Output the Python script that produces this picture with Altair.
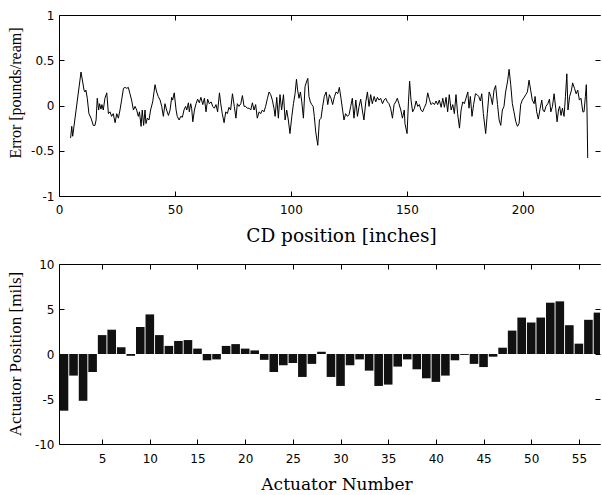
import altair as alt
import pandas as pd

# ---- top panel: error profile ----
cd_pos = [5.0, 5.5, 5.9, 9.5, 10.8, 11.2, 11.6, 12.2, 12.9, 13.8, 14.8, 15.5, 16.0, 16.5, 17.1, 17.5, 18.1, 18.5, 19.1, 19.8,
          20.6, 21.3, 22.0, 22.7, 23.4, 24.2, 24.9, 25.6, 26.3, 27.0, 27.8, 28.5, 29.2, 29.9, 30.6, 31.3, 32.1, 32.8, 33.5, 34.2,
          34.7, 35.4, 35.9, 36.5, 37.1, 37.5, 38.1, 38.8, 39.5, 40.4, 41.4, 42.1, 42.8, 43.6, 44.3, 45.0, 45.7, 46.4, 47.2, 47.9,
          48.6, 49.0, 49.7, 50.5, 51.0, 51.8, 52.5, 53.2, 53.9, 54.6, 55.1, 55.8, 56.2, 56.8, 57.2, 57.7, 58.4, 59.1, 59.8, 60.5,
          61.2, 62.0, 62.7, 63.4, 64.1, 64.8, 65.6, 66.3, 67.0, 67.7, 68.4, 69.2, 69.7, 70.4, 71.2, 71.9, 72.6, 73.3, 74.0, 74.8,
          75.6, 76.3, 76.9, 77.6, 78.4, 79.1, 79.8, 80.5, 81.2, 82.0, 82.7, 83.4, 84.1, 84.8, 85.5, 86.3, 87.0, 87.7, 88.4, 89.1,
          89.9, 90.6, 91.3, 92.0, 92.7, 93.2, 93.9, 94.6, 95.3, 96.0, 96.8, 97.5, 98.2, 98.9, 99.6, 100.4, 101.1, 101.8, 102.4, 102.9,
          103.5, 104.1, 104.7, 105.4, 106.1, 106.7, 107.3, 107.8, 108.4, 109.0, 109.6, 110.1, 110.7, 111.6, 112.3, 113.0, 113.7, 114.4, 115.2, 115.9,
          116.6, 117.3, 118.0, 118.8, 119.5, 120.2, 120.9, 121.6, 122.3, 122.9, 123.6, 124.4, 125.1, 125.8, 126.5, 127.2, 128.0, 128.7, 129.4, 130.1,
          130.8, 131.5, 132.3, 133.0, 133.7, 134.4, 135.1, 135.9, 136.6, 137.3, 138.0, 138.7, 139.5, 140.2, 140.9, 141.6, 142.3, 143.0, 143.8, 144.5,
          145.2, 145.9, 146.6, 147.4, 148.1, 148.9, 149.2, 150.1, 150.7, 151.2, 151.8, 152.5, 153.3, 154.0, 154.7, 155.4, 156.1, 156.8, 157.6, 158.3,
          159.0, 159.7, 160.4, 161.2, 161.9, 162.6, 163.3, 164.0, 164.8, 165.5, 166.2, 166.9, 167.6, 168.3, 169.1, 169.8, 170.5, 171.2, 171.9, 172.7,
          173.4, 174.1, 174.8, 175.5, 176.3, 176.8, 177.4, 178.1, 178.8, 179.6, 180.3, 181.0, 181.7, 182.3, 183.0, 184.0, 184.7, 185.5, 186.2, 186.9,
          187.6, 188.3, 189.1, 189.8, 190.5, 191.2, 191.9, 192.6, 193.4, 194.1, 194.8, 195.5, 196.2, 197.0, 197.7, 198.4, 199.1, 199.8, 200.6, 201.3,
          202.0, 202.7, 203.4, 204.1, 204.9, 205.3, 206.0, 206.7, 207.5, 208.2, 208.7, 209.3, 210.0, 210.8, 211.5, 212.1, 212.8, 213.5, 214.2, 214.8,
          215.4, 215.9, 216.5, 217.1, 217.8, 218.4, 219.0, 219.5, 220.2, 221.0, 221.5, 222.3, 223.0, 223.7, 224.4, 225.1, 225.9, 226.4, 227.0, 227.4,
          227.7, 228.0]
err = [-0.36, -0.23, -0.34, 0.37, 0.17, 0.15, 0.17, 0.08, -0.09, -0.14, -0.22, -0.22, -0.16, 0.08, -0.05, 0.02, -0.04, 0.01, -0.05, 0.08,
       0.14, -0.09, -0.07, -0.12, -0.09, -0.19, -0.09, -0.14, -0.05, 0.06, 0.19, 0.20, 0.19, 0.20, 0.13, 0.06, -0.05, -0.01, -0.05, -0.12,
       -0.07, -0.23, -0.05, -0.22, -0.05, -0.20, -0.14, -0.16, -0.05, 0.04, 0.23, 0.15, 0.10, 0.06, -0.01, -0.12, 0.02, -0.05, -0.11, -0.05,
       0.09, 0.06, 0.14, -0.05, -0.12, -0.16, -0.12, -0.13, -0.05, -0.01, -0.05, 0.03, -0.07, 0.02, -0.03, -0.18, -0.05, 0.02, 0.07, 0.03,
       0.09, 0.01, 0.08, -0.07, 0.07, 0.02, 0.04, -0.01, -0.03, 0.01, -0.07, 0.14, 0.03, -0.09, -0.19, -0.07, -0.09, -0.02, -0.05, 0.13,
       -0.01, -0.14, 0.02, -0.01, 0.02, 0.11, -0.01, -0.01, -0.03, -0.03, -0.05, 0.03, -0.05, 0.01, -0.14, -0.07, -0.09, -0.05, -0.07, -0.01,
       0.08, 0.15, 0.12, 0.06, -0.03, -0.12, 0.09, -0.14, 0.12, -0.05, 0.12, -0.16, -0.05, -0.16, -0.31, -0.12, 0.02, 0.13, 0.29, 0.17,
       0.08, 0.15, 0.04, -0.14, 0.21, 0.26, 0.30, 0.10, 0.04, 0.01, -0.01, -0.12, -0.29, -0.44, -0.16, -0.14, -0.01, 0.10, 0.15, 0.01,
       0.12, 0.08, 0.01, 0.10, 0.15, 0.13, 0.20, 0.08, -0.05, -0.16, -0.09, -0.12, -0.10, -0.01, 0.08, -0.14, 0.06, -0.12, -0.01, 0.07,
       -0.05, -0.16, 0.04, 0.15, -0.01, 0.12, 0.02, 0.10, 0.04, 0.09, 0.06, 0.08, 0.02, 0.06, 0.08, 0.04, 0.02, -0.03, -0.14, 0.01,
       0.04, 0.08, 0.02, -0.05, -0.14, -0.05, -0.20, -0.31, 0.04, 0.27, 0.06, -0.07, -0.03, 0.05, -0.01, 0.01, -0.05, -0.07, -0.02, 0.02,
       0.14, 0.07, 0.01, 0.03, 0.01, 0.05, 0.01, 0.06, -0.02, 0.08, -0.02, 0.09, -0.07, 0.12, -0.05, 0.01, -0.09, 0.12, -0.09, -0.25,
       -0.05, 0.04, 0.02, 0.08, 0.15, -0.03, 0.10, -0.12, 0.01, 0.13, 0.12, 0.10, 0.05, 0.13, -0.09, -0.31, -0.09, 0.15, 0.10, 0.01,
       0.17, 0.22, 0.01, -0.16, -0.22, -0.05, -0.01, 0.15, 0.26, 0.40, 0.23, 0.02, -0.07, -0.18, -0.23, -0.20, 0.01, 0.06, 0.09, 0.12,
       0.15, 0.28, 0.17, 0.06, 0.02, 0.10, -0.07, -0.15, -0.03, 0.06, -0.05, -0.07, -0.01, 0.02, 0.07, -0.07, -0.01, 0.13, -0.03, -0.18,
       -0.05, -0.01, -0.11, -0.03, -0.12, 0.10, 0.35, -0.05, 0.10, 0.17, 0.25, 0.19, 0.13, 0.17, 0.06, 0.08, -0.07, -0.07, 0.10, 0.23,
       -0.05, -0.58]

# ---- bottom panel: actuator profile ----
actuator = list(range(1, 58))
act_pos = [-6.3, -2.4, -5.2, -2.0, 2.1, 2.7, 0.75, -0.2, 3.0, 4.4,
           2.1, 0.9, 1.45, 1.55, 0.6, -0.7, -0.6, 0.9, 1.1, 0.6,
           0.4, -0.65, -2.0, -1.25, -1.0, -2.55, -1.1, 0.25, -2.55, -3.55,
           -1.25, -0.6, -1.85, -3.55, -3.4, -1.4, -0.6, -1.7, -2.7, -3.1,
           -2.4, -0.7, -0.1, -1.1, -1.45, -0.3, 0.7, 2.6, 4.05, 3.5,
           4.05, 5.7, 5.85, 3.2, 1.15, 3.8, 4.6]

top_x_ticks = [0, 50, 100, 150, 200]
top_y_ticks = [-1, -0.5, 0, 0.5, 1]
bot_x_ticks = [5, 10, 15, 20, 25, 30, 35, 40, 45, 50, 55]
bot_y_ticks = [-10, -5, 0, 5, 10]

top_df = pd.DataFrame({"cd": cd_pos, "err": err})
bot_df = pd.DataFrame({"act": actuator, "pos": act_pos})

INWARD = {"expr": "-5"}
LABEL_FONT = "DejaVu Sans"


def main_x_axis(values, title, size, tx, pad):
    return alt.Axis(orient="bottom", values=values, grid=False,
                    domain=True, domainColor="black", domainWidth=1,
                    tickSize=INWARD, tickColor="black", tickWidth=1,
                    labelPadding=pad, labelFont=LABEL_FONT, labelFontSize=12,
                    labelColor="black", labelFlush=False, labelOverlap=False,
                    labelExpr="'' + datum.value",
                    title=title, titleFont="DejaVu Serif", titleFontSize=size,
                    titleFontWeight="normal", titleColor="black",
                    titleX=tx, titleY=45, titleAlign="center", titleBaseline="alphabetic")


def main_y_axis(values, title, size, ty):
    return alt.Axis(orient="left", values=values, grid=False,
                    domain=True, domainColor="black", domainWidth=1,
                    tickSize=INWARD, tickColor="black", tickWidth=1,
                    labelPadding=10, labelFont=LABEL_FONT, labelFontSize=12,
                    labelColor="black", labelFlush=False, labelOverlap=False,
                    labelExpr="'' + datum.value",
                    title=title, titleFont="Liberation Serif", titleFontSize=size,
                    titleFontWeight="normal", titleColor="black", titleAngle=270,
                    titleX=-44, titleY=ty, titleAlign="center", titleBaseline="middle")


def tick_axis(orient, values, show_domain):
    return alt.Axis(orient=orient, values=values, grid=False, labels=False,
                    domain=show_domain, domainColor="black", domainWidth=1,
                    tickSize=INWARD, tickColor="black", tickWidth=1, title="")


xs_top = alt.Scale(domain=[0, 233.3], nice=False, zero=False)
ys_top = alt.Scale(domain=[-1, 1], nice=False)
xs_bot = alt.Scale(domain=[1, 56.69], nice=False, zero=False)
ys_bot = alt.Scale(domain=[-10, 10], nice=False)

top_line = alt.Chart(top_df).mark_line(color="black", strokeWidth=1).encode(
    x=alt.X("cd:Q", scale=xs_top, axis=main_x_axis(top_x_ticks, "CD position [inches]", 18.5, 282, 13)),
    y=alt.Y("err:Q", scale=ys_top, axis=main_y_axis(top_y_ticks, "Error [pounds/ream]", 16, 77.5)),
)
top_ghost = alt.Chart(top_df).mark_line(strokeOpacity=0).encode(
    x=alt.X("cd:Q", scale=xs_top, axis=tick_axis("top", top_x_ticks, True)),
    y=alt.Y("err:Q", scale=ys_top, axis=tick_axis("right", top_y_ticks, False)),
)
top = alt.layer(top_line, top_ghost).resolve_axis(x="independent", y="independent").properties(
    width=541, height=181)

bars_main = alt.Chart(bot_df).transform_filter("datum.act <= 56").mark_bar(
    size=8.6, color="#111111", clip=False).encode(
    x=alt.X("act:Q", scale=xs_bot, axis=main_x_axis(bot_x_ticks, "Actuator Number", 17, 277.5, 14)),
    y=alt.Y("pos:Q", scale=ys_bot, axis=main_y_axis(bot_y_ticks, "Actuator Position [mils]", 17, 89.5)),
)
bars_edge = alt.Chart(bot_df).transform_filter("datum.act > 56").mark_bar(
    size=8.6, color="#111111", clip=True).encode(
    x=alt.X("act:Q", scale=xs_bot, axis=tick_axis("top", bot_x_ticks, True)),
    y=alt.Y("pos:Q", scale=ys_bot, axis=tick_axis("right", bot_y_ticks, False)),
)
bottom = alt.layer(bars_main, bars_edge).resolve_axis(x="independent", y="independent").properties(
    width=541, height=180)

chart = alt.vconcat(top, bottom, spacing=68, bounds="flush").properties(
    padding={"left": 6, "top": 9, "right": 0, "bottom": 0},
    background="white",
).configure_view(strokeWidth=0)

chart.save("out.html", embed_options={"renderer": "svg", "actions": False})
